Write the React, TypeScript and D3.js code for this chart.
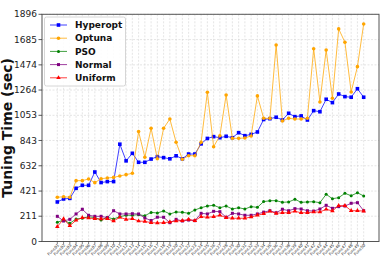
import React from "react";
import * as d3 from "d3";

// task labels on the x axis
const funcs = [
  "Func01", "Func02", "Func03", "Func04", "Func05", "Func06", "Func07", "Func08", "Func09", "Func10",
  "Func11", "Func12", "Func13", "Func14", "Func15", "Func16", "Func17", "Func18", "Func19", "Func20",
  "Func21", "Func22", "Func23", "Func24", "Func25", "Func26", "Func27", "Func28", "Func29", "Func30",
  "Func31", "Func32", "Func33", "Func34", "Func35", "Func36", "Func37", "Func38", "Func39", "Func40",
  "Func41", "Func42", "Func43", "Func44", "Func45", "Func46", "Func47", "Func48", "Func49", "Func50",
];

const hyperopt = [330, 355, 360, 444, 469, 469, 580, 492, 500, 500, 812, 673, 736, 661, 661, 688, 708, 700, 690, 715,
  690, 730, 730, 815, 860, 875, 866, 878, 866, 908, 883, 894, 914, 1018, 1025, 1037, 1014, 1070, 1042, 1048,
  1014, 1092, 1083, 1187, 1159, 1231, 1209, 1204, 1275, 1204];
const optuna = [369, 374, 369, 508, 508, 522, 491, 524, 530, 535, 547, 558, 569, 917, 703, 945, 690, 945, 1022, 828,
  686, 716, 716, 828, 1245, 791, 883, 1223, 861, 861, 864, 881, 1215, 1028, 1028, 1640, 1006, 1028, 1022, 1022,
  1028, 1609, 1164, 1598, 1195, 1774, 1663, 1248, 1459, 1815];
const pso = [160, 179, 152, 188, 194, 207, 199, 179, 202, 188, 207, 219, 219, 224, 215, 243, 238, 255, 230, 246,
  244, 235, 263, 282, 296, 302, 282, 296, 271, 282, 271, 291, 285, 333, 340, 341, 327, 330, 352, 327,
  330, 332, 324, 394, 357, 366, 402, 382, 407, 380];
const normal = [210, 171, 185, 230, 269, 219, 210, 210, 199, 257, 230, 230, 232, 230, 196, 175, 203, 202, 157, 185,
  171, 179, 174, 235, 230, 252, 249, 202, 235, 230, 219, 219, 230, 245, 257, 240, 269, 257, 274, 271,
  257, 254, 271, 302, 277, 291, 296, 319, 324, 257];
const uniform = [124, 188, 132, 177, 199, 196, 190, 188, 190, 171, 202, 185, 190, 171, 168, 157, 155, 157, 163, 171,
  174, 185, 174, 207, 202, 207, 219, 199, 194, 194, 194, 204, 219, 232, 252, 235, 240, 240, 252, 240,
  240, 246, 246, 269, 255, 299, 299, 257, 257, 254];

const yTicks = [0, 211, 421, 632, 843, 1053, 1264, 1474, 1685, 1896];

const series = [
  { name: "Hyperopt", values: hyperopt, color: "#0000ff", marker: "square" },
  { name: "Optuna", values: optuna, color: "#ffa500", marker: "circle" },
  { name: "PSO", values: pso, color: "#008000", marker: "dot" },
  { name: "Normal", values: normal, color: "#800080", marker: "smallsquare" },
  { name: "Uniform", values: uniform, color: "#ff0000", marker: "triangle" },
];

const W = 382;
const H = 270;
const left = 42;
const right = 379;
const top = 14.3;
const bottom = 241.5;

const Marker = ({ type, x, y, color }) => {
  if (type === "square") return <rect x={x - 1.8} y={y - 1.8} width={3.6} height={3.6} fill={color} />;
  if (type === "smallsquare") return <rect x={x - 1.5} y={y - 1.5} width={3} height={3} fill={color} />;
  if (type === "circle") return <circle cx={x} cy={y} r={1.8} fill={color} />;
  if (type === "triangle") {
    const p = d3.symbol().type(d3.symbolTriangle).size(9)();
    return <path d={p} transform={`translate(${x},${y})`} fill={color} />;
  }
  return <circle cx={x} cy={y} r={1.5} fill={color} />;
};

export default function App() {
  const n = funcs.length;
  const x = d3.scaleLinear().domain([-0.05 * (n - 1), (n - 1) * 1.05]).range([left, right]);
  const y = d3.scaleLinear().domain([0, 1896]).range([bottom, top]);
  const line = d3.line<number>().x((_, i) => x(i)).y((d) => y(d));

  return (
    <svg width={W} height={H} style={{ position: "absolute", left: 0, top: 0 }} fontFamily="DejaVu Sans">
      <rect width={W} height={H} fill="white" />
      {/* grid */}
      {funcs.map((f, i) => (
        <line key={f} x1={x(i)} x2={x(i)} y1={top} y2={bottom} stroke="#d4d4d4" strokeWidth={0.6} strokeDasharray="2,1.5" />
      ))}
      {yTicks.map((t) => (
        <line key={t} x1={left} x2={right} y1={y(t)} y2={y(t)} stroke="#d4d4d4" strokeWidth={0.6} strokeDasharray="2,1.5" />
      ))}

      {/* series */}
      {series.map((s) => (
        <g key={s.name}>
          <path d={line(s.values) || ""} fill="none" stroke={s.color} strokeWidth={1} strokeOpacity={0.75} />
          {s.values.map((v, i) => (
            <Marker key={i} type={s.marker} x={x(i)} y={y(v)} color={s.color} />
          ))}
        </g>
      ))}

      {/* frame */}
      <rect x={left} y={top} width={right - left} height={bottom - top} fill="none" stroke="#555" strokeWidth={1} />

      {/* y axis */}
      {yTicks.map((t) => (
        <g key={t}>
          <line x1={left - 3.5} x2={left} y1={y(t)} y2={y(t)} stroke="#333" strokeWidth={0.8} />
          <text x={left - 5} y={y(t)} dy="0.35em" textAnchor="end" fontSize={9} fill="#222">{t}</text>
        </g>
      ))}
      <text transform={`translate(12,${(top + bottom) / 2}) rotate(-90)`} textAnchor="middle" fontSize={14} fontWeight="bold" fill="#111">
        Tuning Time (sec)
      </text>

      {/* x axis */}
      {funcs.map((f, i) => (
        <g key={f}>
          <line x1={x(i)} x2={x(i)} y1={bottom} y2={bottom + 2.5} stroke="#333" strokeWidth={0.6} />
          <text transform={`translate(${x(i) + 2},${bottom + 4}) rotate(-45)`} textAnchor="end" fontSize={4} fill="#333">{f}</text>
        </g>
      ))}

      {/* legend */}
      <rect x={44.5} y={17} width={81} height={69} rx={2} fill="white" fillOpacity={0.85} stroke="#ccc" strokeWidth={0.8} />
      {series.map((s, i) => {
        const ly = 25 + i * 13.2;
        return (
          <g key={s.name}>
            <line x1={50} x2={67} y1={ly} y2={ly} stroke={s.color} strokeWidth={1} strokeOpacity={0.75} />
            <Marker type={s.marker} x={58.5} y={ly} color={s.color} />
            <text x={75} y={ly} dy="0.35em" fontSize={9} fontWeight="bold" fill="#111">{s.name}</text>
          </g>
        );
      })}
    </svg>
  );
}
